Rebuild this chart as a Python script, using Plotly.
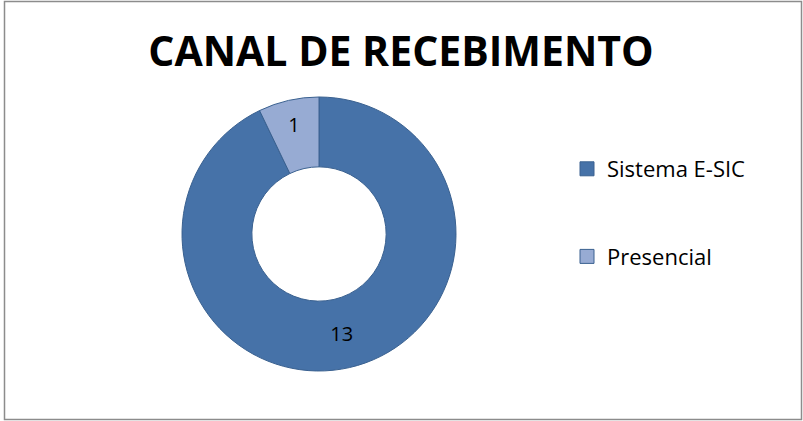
import plotly.graph_objects as go

title = "CANAL DE RECEBIMENTO"
categories = ["Sistema E-SIC", "Presencial"]
values = [13, 1]
colors = ["#4672A8", "#97ABD3"]

W, H = 803, 421
fig = go.Figure()

fig.add_trace(go.Pie(
    labels=categories, values=values, hole=0.49, sort=False,
    direction="clockwise", rotation=0,
    marker=dict(colors=colors, line=dict(color="#3A6190", width=1)),
    textinfo="value", textposition="inside", insidetextorientation="horizontal",
    textfont=dict(family="Open Sans", size=20, color="black"),
    domain=dict(x=[(319 - 137) / W, (319 + 137) / W], y=[1 - 371 / H, 1 - 97 / H]),
    showlegend=False, hoverinfo="label+value",
))

# legend entries via invisible scatter traces
for i, (c, col) in enumerate(zip(categories, colors)):
    fig.add_trace(go.Scatter(
        x=[None], y=[None], mode="markers", name=c, legendgroup=c,
        marker=dict(symbol="square", size=14, color=col, line=dict(color="#3A6190", width=1)),
        showlegend=True,
    ))

fig.update_layout(
    width=W, height=H,
    margin=dict(l=0, r=0, t=0, b=0),
    paper_bgcolor="white", plot_bgcolor="white",
    xaxis=dict(visible=False), yaxis=dict(visible=False),
    title=dict(text="<b>" + title + "</b>", x=401 / W, xanchor="center",
               y=1 - 52 / H, yanchor="middle",
               font=dict(family="Open Sans", size=41, color="black")),
    legend=dict(x=567 / W, y=1 - 148 / H, xanchor="left", yanchor="top",
                font=dict(family="Open Sans", size=22, color="black"),
                traceorder="grouped", tracegroupgap=56, itemwidth=30,
                bgcolor="rgba(0,0,0,0)"),
    shapes=[dict(type="rect", xref="paper", yref="paper",
                 x0=4.5 / W, x1=801.5 / W, y0=1 - 419.5 / H, y1=1 - 1.5 / H,
                 line=dict(color="#8C8C8C", width=1.5))],
)

fig.write_html("out.html", config={"displayModeBar": False},
               post_script="document.body.style.margin='0';document.body.style.overflow='hidden';")
